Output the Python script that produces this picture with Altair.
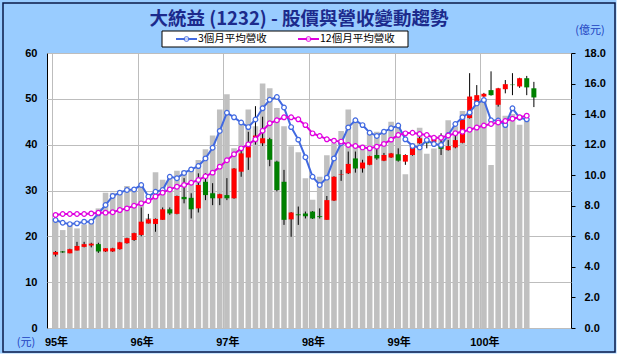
import json
import altair as alt
import pandas as pd

# ---------------- data ----------------
title_text = "大統益 (1232) - 股價與營收變動趨勢"
year_labels = ["95年", "96年", "97年", "98年", "99年", "100年"]
legend_labels = ["3個月平均營收", "12個月平均營收"]
left_unit = "(元)"
right_unit = "(億元)"
left_ticks = [0, 10, 20, 30, 40, 50, 60]
right_ticks = [0, 2, 4, 6, 8, 10, 12, 14, 16, 18]

# monthly revenue (億元), 95/01 .. 100/07
revenue = [6.96, 6.41, 6.74, 6.52, 6.78, 6.96, 7.83, 8.86, 8.86, 8.99, 9.29, 9.07,
           9.45, 7.2, 10.2, 9.7, 9.8, 10.3, 10.3, 10.4, 11.0, 11.7, 12.6, 14.3,
           15.3, 11.77, 13.4, 14.3, 13.2, 16.0, 15.7, 14.4, 13.2, 11.9, 11.5, 9.8,
           8.4, 9.9, 11.3, 12.1, 12.9, 14.3, 13.55, 12.0, 12.8, 12.85, 12.8, 13.5,
           13.35, 10.07, 12.1, 13.1, 11.4, 11.75, 12.63, 13.6, 13.2, 14.2, 14.15, 14.9,
           15.0, 10.67, 15.0, 13.9, 14.0, 13.3, 13.7]

# 3-month average revenue (億元)
ma3 = [7.07, 6.89, 6.8, 6.85, 6.96, 6.96, 7.5, 8.05, 8.64, 8.86, 9.03, 9.07,
       9.36, 8.6, 8.92, 9.03, 9.9, 9.8, 10.15, 10.38, 10.6, 11.1, 11.8, 12.9,
       14.09, 13.79, 13.45, 13.15, 13.65, 14.38, 14.94, 15.12, 14.43, 13.15, 12.33, 11.18,
       9.9, 9.36, 9.84, 11.1, 12.09, 13.13, 13.6, 13.28, 12.78, 12.57, 12.85, 13.07,
       13.25, 12.35, 11.91, 11.82, 12.3, 12.04, 11.98, 12.63, 13.35, 13.8, 14.1, 14.7,
       14.92, 13.6, 13.58, 13.28, 14.38, 13.76, 13.66]

# 12-month average revenue (億元)
ma12 = [7.4, 7.46, 7.46, 7.46, 7.46, 7.5, 7.55, 7.55, 7.58, 7.72, 7.83, 8.0,
        8.16, 8.31, 8.6, 8.86, 9.07, 9.25, 9.36, 9.51, 9.69, 9.93, 10.17, 10.56,
        10.98, 11.37, 11.76, 12.02, 12.35, 12.91, 13.4, 13.6, 13.79, 13.79, 13.66, 13.28,
        12.74, 12.57, 12.35, 12.26, 12.2, 11.98, 11.91, 11.82, 11.76, 11.87, 12.05, 12.33,
        12.63, 12.74, 12.78, 12.7, 12.63, 12.45, 12.45, 12.6, 12.75, 12.85, 12.98, 13.12,
        13.25, 13.35, 13.45, 13.55, 13.7, 13.8, 13.9]

# monthly candles (元), 95/01 .. 100/08
price_open = [16.0, 16.7, 16.3, 16.9, 17.7, 18.0, 18.3, 16.7, 16.7, 17.2, 18.5, 19.2,
              20.3, 22.8, 22.7, 23.6, 25.9, 24.9, 28.6, 28.4, 26.1, 31.9, 29.4, 28.3,
              29.0, 28.3, 34.1, 37.2, 41.5, 40.3, 41.2, 36.3, 31.9, 23.7, 24.8, 25.0,
              25.4, 24.4, 23.6, 27.8, 33.5, 33.75, 37.0, 34.8, 35.6, 37.75, 36.5, 37.2,
              37.9, 36.3, 37.75, 40.3, 40.7, 40.6, 39.8, 38.8, 39.4, 40.4, 45.8, 49.4,
              50.5, 51.9, 48.7, 52.1, 53.1, 52.7, 54.5, 52.3]
price_close = [16.6, 16.5, 17.2, 17.9, 18.3, 18.4, 16.7, 17.4, 17.4, 18.7, 19.6, 20.7,
               23.2, 23.7, 23.8, 25.9, 25.0, 28.8, 28.1, 25.9, 31.2, 29.0, 28.3, 29.2,
               28.3, 34.8, 38.1, 39.6, 42.0, 41.4, 36.7, 30.1, 23.6, 25.2, 24.6, 24.4,
               23.9, 24.2, 27.9, 33.0, 33.6, 35.8, 34.8, 36.1, 37.5, 37.0, 37.75, 38.1,
               36.5, 37.75, 39.5, 41.4, 40.3, 41.8, 39.1, 39.7, 41.0, 45.5, 50.5, 50.8,
               51.1, 50.8, 52.3, 53.2, 53.0, 54.5, 52.5, 50.3]
price_high = [16.8, 16.8, 17.3, 18.8, 18.8, 18.6, 18.6, 17.4, 17.5, 18.8, 19.7, 20.8,
              26.3, 24.9, 23.9, 26.3, 26.3, 28.9, 32.7, 29.4, 33.75, 33.8, 31.6, 29.3,
              32.7, 34.9, 39.6, 42.8, 48.4, 46.1, 41.5, 36.5, 34.5, 25.3, 26.5, 25.4,
              25.5, 26.1, 28.8, 33.1, 34.5, 38.5, 38.5, 36.7, 37.6, 40.0, 38.2, 38.2,
              39.2, 37.9, 40.2, 42.1, 41.7, 41.9, 42.5, 41.0, 41.9, 45.6, 55.6, 53.0,
              51.3, 56.0, 52.4, 54.1, 55.6, 54.6, 55.0, 53.7]
price_low = [15.6, 16.4, 16.3, 16.9, 17.6, 17.6, 16.4, 16.6, 16.6, 17.1, 18.4, 19.0,
             20.0, 22.8, 21.0, 23.6, 24.7, 24.8, 27.2, 23.9, 25.2, 27.9, 26.8, 26.8,
             27.9, 28.2, 33.0, 34.5, 40.0, 39.7, 35.3, 29.8, 22.5, 19.9, 22.5, 23.9,
             23.8, 23.9, 23.6, 27.7, 32.1, 33.6, 33.9, 33.9, 35.5, 36.7, 36.4, 37.1,
             36.3, 35.6, 37.6, 40.2, 39.2, 40.5, 37.75, 38.7, 39.2, 40.3, 45.7, 49.3,
             50.4, 50.7, 48.3, 51.2, 50.8, 52.4, 50.8, 48.2]

# ---------------- tables ----------------
rev_df = pd.DataFrame({
    "xc": [i + 0.5 for i in range(len(revenue))],
    "rev": revenue,
    "ma3": ma3,
    "ma12": ma12,
})
k_df = pd.DataFrame({
    "xc": [i + 0.5 for i in range(len(price_open))],
    "open": price_open,
    "close": price_close,
    "high": price_high,
    "low": price_low,
})
k_df["dir"] = ["up" if c >= o else "down" for o, c in zip(price_open, price_close)]

W, H = 524, 275
LABEL_FONT = "Liberation Sans, Noto Sans CJK TC, sans-serif"
CJK_FONT = "Noto Sans CJK TC, sans-serif"
GRID = "#BDBDBD"

x_axis = alt.Axis(
    values=[0, 12, 24, 36, 48, 60],
    labelExpr=json.dumps(year_labels) + "[round(datum.value / 12)]",
    grid=True, gridColor=GRID, gridWidth=1,
    ticks=False, domain=False, title=None,
    labelFont=LABEL_FONT, labelFontSize=11, labelFontWeight="bold", labelColor="black",
    labelPadding=8, labelAlign="center", labelOffset=4, labelFlush=False,
)
X = alt.X("xc:Q", scale=alt.Scale(domain=[0, 72], nice=False, zero=False), axis=x_axis)

rev_scale = alt.Scale(domain=[0, 18], nice=False, zero=True)
price_scale = alt.Scale(domain=[0, 60], nice=False, zero=True)

right_axis = alt.Axis(
    orient="right", values=right_ticks, format=".1f", grid=False,
    ticks=True, tickSize=4, tickColor="black", domain=False, title=None,
    labelFont=LABEL_FONT, labelFontSize=11, labelFontWeight="bold", labelColor="black",
    labelPadding=9,
)
left_axis = alt.Axis(
    orient="left", values=left_ticks, format="d", grid=True, gridColor=GRID, gridWidth=1,
    ticks=False, domain=False, title=None,
    labelFont=LABEL_FONT, labelFontSize=11, labelFontWeight="bold", labelColor="black",
    labelPadding=10,
)

bars = alt.Chart(rev_df).mark_bar(color="#C0C0C0", size=5.6).encode(
    x=X, y=alt.Y("rev:Q", scale=rev_scale, axis=right_axis)
)
wicks = alt.Chart(k_df).mark_rule(color="black", strokeWidth=1).encode(
    x=X, y=alt.Y("low:Q", scale=price_scale, axis=left_axis), y2="high:Q"
)
bodies = alt.Chart(k_df).mark_bar(size=5).encode(
    x=X,
    y=alt.Y("open:Q", scale=price_scale, axis=None),
    y2="close:Q",
    color=alt.Color("dir:N", scale=alt.Scale(domain=["up", "down"], range=["#FF0000", "#008000"]), legend=None),
)
BLUE = "#4169E1"
MAG = "#E000E0"
line3 = alt.Chart(rev_df).mark_line(
    color=BLUE, strokeWidth=2,
    point=alt.OverlayMarkDef(filled=True, fill="white", stroke=BLUE, strokeWidth=1.2, size=22),
).encode(x=X, y=alt.Y("ma3:Q", scale=rev_scale, axis=None))
line12 = alt.Chart(rev_df).mark_line(
    color=MAG, strokeWidth=2,
    point=alt.OverlayMarkDef(filled=True, fill="white", stroke=MAG, strokeWidth=1.2, size=22),
).encode(x=X, y=alt.Y("ma12:Q", scale=rev_scale, axis=None))

# ---------------- decorations (frame, title, legend, units) ----------------
one = pd.DataFrame({"d": [0]})
frame = alt.Chart(one).mark_rect(fillOpacity=0, stroke="#0A1A4A", strokeWidth=1.5).encode(
    x=alt.value(-44), x2=alt.value(568), y=alt.value(-50), y2=alt.value(299)
)
strip_r = alt.Chart(one).mark_rect(color="white").encode(
    x=alt.value(569.5), x2=alt.value(580), y=alt.value(-60), y2=alt.value(310)
)
strip_b = alt.Chart(one).mark_rect(color="white").encode(
    x=alt.value(-60), x2=alt.value(580), y=alt.value(300.5), y2=alt.value(310)
)
title = alt.Chart(pd.DataFrame({"t": [title_text]})).mark_text(
    font=CJK_FONT, fontSize=18.5, fontWeight="bold", color="#1C2A8C", align="center", baseline="middle"
).encode(x=alt.value(252), y=alt.value(-34), text="t:N")

leg_box = alt.Chart(one).mark_rect(fill="white", stroke="black", strokeWidth=1).encode(
    x=alt.value(115), x2=alt.value(361), y=alt.value(-22), y2=alt.value(-6)
)
leg_line_b = alt.Chart(one).mark_rule(color=BLUE, strokeWidth=2).encode(
    x=alt.value(129), x2=alt.value(150), y=alt.value(-14)
)
leg_line_m = alt.Chart(one).mark_rule(color=MAG, strokeWidth=2).encode(
    x=alt.value(251), x2=alt.value(272), y=alt.value(-14)
)
leg_pt_b = alt.Chart(one).mark_point(filled=True, fill="white", stroke=BLUE, strokeWidth=1.2, size=22).encode(
    x=alt.value(139.5), y=alt.value(-14)
)
leg_pt_m = alt.Chart(one).mark_point(filled=True, fill="white", stroke=MAG, strokeWidth=1.2, size=22).encode(
    x=alt.value(261.5), y=alt.value(-14)
)
leg_txt_b = alt.Chart(pd.DataFrame({"t": [legend_labels[0]]})).mark_text(
    font=CJK_FONT, fontSize=10.5, color="black", align="left", baseline="middle"
).encode(x=alt.value(151), y=alt.value(-14), text="t:N")
leg_txt_m = alt.Chart(pd.DataFrame({"t": [legend_labels[1]]})).mark_text(
    font=CJK_FONT, fontSize=10.5, color="black", align="left", baseline="middle"
).encode(x=alt.value(273), y=alt.value(-14), text="t:N")

unit_r = alt.Chart(pd.DataFrame({"t": [right_unit]})).mark_text(
    font=CJK_FONT, fontSize=11, color="#2040C0", align="center", baseline="middle"
).encode(x=alt.value(543), y=alt.value(-22), text="t:N")
unit_l = alt.Chart(pd.DataFrame({"t": [left_unit]})).mark_text(
    font=CJK_FONT, fontSize=11, color="#2040C0", align="center", baseline="middle"
).encode(x=alt.value(-21), y=alt.value(15 + H), text="t:N")

chart = alt.layer(
    bars, wicks, bodies, line3, line12,
    frame, strip_r, strip_b, title,
    leg_box, leg_line_b, leg_line_m, leg_pt_b, leg_pt_m, leg_txt_b, leg_txt_m,
    unit_r, unit_l,
).resolve_scale(y="independent").resolve_axis(y="independent").properties(
    width=W, height=H,
    padding={"left": 47, "top": 53, "right": 51, "bottom": 30},
    autosize=alt.AutoSizeParams(type="none"),
    background="#99CCFF",
).configure_view(stroke="#000000", strokeWidth=1, fill="white")

chart.save("out.html", embed_options={"renderer": "svg", "actions": False})
